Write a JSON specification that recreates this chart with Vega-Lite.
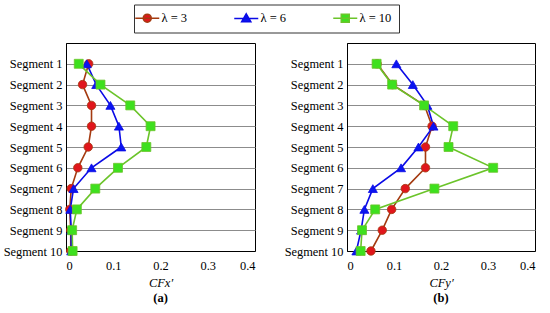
{
  "$schema": "https://vega.github.io/schema/vega-lite/v6.json",
  "padding": {"left": 2, "top": 4, "right": 4, "bottom": 8},
  "background": "white",
  "config": {
    "font": "Liberation Serif",
    "view": {"stroke": "black", "strokeWidth": 1},
    "axis": {
      "labelFont": "Liberation Serif", "labelFontSize": 12.4, "labelColor": "black",
      "ticks": false, "domainColor": "black", "domainWidth": 1,
      "titleFont": "Liberation Serif", "titleFontWeight": "normal", "titleColor": "black"
    },
    "legend": {
      "orient": "none", "legendX": 68, "legendY": -38.5, "direction": "horizontal",
      "strokeColor": "#333", "padding": 7, "columnPadding": 43, "symbolSize": 64, "symbolStrokeWidth": 1.5,
      "labelOffset": 8, "labelFontSize": 12.5, "labelFont": "Liberation Serif", "labelColor": "black"
    },
    "title": {"font": "Liberation Serif", "fontSize": 12.5, "color": "black"}
  },
  "datasets": {
    "a": [
      {"seg": 1, "lambda": "λ = 3", "v": 0.048}, {"seg": 2, "lambda": "λ = 3", "v": 0.035}, {"seg": 3, "lambda": "λ = 3", "v": 0.054}, {"seg": 4, "lambda": "λ = 3", "v": 0.054}, {"seg": 5, "lambda": "λ = 3", "v": 0.047}, {"seg": 6, "lambda": "λ = 3", "v": 0.025}, {"seg": 7, "lambda": "λ = 3", "v": 0.011}, {"seg": 8, "lambda": "λ = 3", "v": 0.008}, {"seg": 9, "lambda": "λ = 3", "v": 0.010}, {"seg": 10, "lambda": "λ = 3", "v": 0.010},
      {"seg": 1, "lambda": "λ = 6", "v": 0.044}, {"seg": 2, "lambda": "λ = 6", "v": 0.064}, {"seg": 3, "lambda": "λ = 6", "v": 0.094}, {"seg": 4, "lambda": "λ = 6", "v": 0.112}, {"seg": 5, "lambda": "λ = 6", "v": 0.117}, {"seg": 6, "lambda": "λ = 6", "v": 0.054}, {"seg": 7, "lambda": "λ = 6", "v": 0.016}, {"seg": 8, "lambda": "λ = 6", "v": 0.009}, {"seg": 9, "lambda": "λ = 6", "v": 0.011}, {"seg": 10, "lambda": "λ = 6", "v": 0.011},
      {"seg": 1, "lambda": "λ = 10", "v": 0.027}, {"seg": 2, "lambda": "λ = 10", "v": 0.073}, {"seg": 3, "lambda": "λ = 10", "v": 0.136}, {"seg": 4, "lambda": "λ = 10", "v": 0.179}, {"seg": 5, "lambda": "λ = 10", "v": 0.170}, {"seg": 6, "lambda": "λ = 10", "v": 0.110}, {"seg": 7, "lambda": "λ = 10", "v": 0.062}, {"seg": 8, "lambda": "λ = 10", "v": 0.023}, {"seg": 9, "lambda": "λ = 10", "v": 0.013}, {"seg": 10, "lambda": "λ = 10", "v": 0.014}
    ],
    "b": [
      {"seg": 1, "lambda": "λ = 3", "v": 0.064}, {"seg": 2, "lambda": "λ = 3", "v": 0.097}, {"seg": 3, "lambda": "λ = 3", "v": 0.165}, {"seg": 4, "lambda": "λ = 3", "v": 0.181}, {"seg": 5, "lambda": "λ = 3", "v": 0.167}, {"seg": 6, "lambda": "λ = 3", "v": 0.167}, {"seg": 7, "lambda": "λ = 3", "v": 0.124}, {"seg": 8, "lambda": "λ = 3", "v": 0.095}, {"seg": 9, "lambda": "λ = 3", "v": 0.075}, {"seg": 10, "lambda": "λ = 3", "v": 0.051},
      {"seg": 1, "lambda": "λ = 6", "v": 0.105}, {"seg": 2, "lambda": "λ = 6", "v": 0.140}, {"seg": 3, "lambda": "λ = 6", "v": 0.171}, {"seg": 4, "lambda": "λ = 6", "v": 0.184}, {"seg": 5, "lambda": "λ = 6", "v": 0.152}, {"seg": 6, "lambda": "λ = 6", "v": 0.115}, {"seg": 7, "lambda": "λ = 6", "v": 0.055}, {"seg": 8, "lambda": "λ = 6", "v": 0.037}, {"seg": 9, "lambda": "λ = 6", "v": 0.030}, {"seg": 10, "lambda": "λ = 6", "v": 0.020},
      {"seg": 1, "lambda": "λ = 10", "v": 0.063}, {"seg": 2, "lambda": "λ = 10", "v": 0.096}, {"seg": 3, "lambda": "λ = 10", "v": 0.164}, {"seg": 4, "lambda": "λ = 10", "v": 0.226}, {"seg": 5, "lambda": "λ = 10", "v": 0.216}, {"seg": 6, "lambda": "λ = 10", "v": 0.311}, {"seg": 7, "lambda": "λ = 10", "v": 0.186}, {"seg": 8, "lambda": "λ = 10", "v": 0.060}, {"seg": 9, "lambda": "λ = 10", "v": 0.032}, {"seg": 10, "lambda": "λ = 10", "v": 0.029}
    ]
  },
  "spacing": 27,
  "hconcat": [
    {
      "width": 189, "height": 208,
      "data": {"name": "a"},
      "title": {"text": "(a)", "orient": "bottom", "fontWeight": "bold", "offset": 3},
      "encoding": {
        "x": {"field": "v", "type": "quantitative", "scale": {"domain": [0, 0.4], "nice": false},
              "axis": {"values": [0, 0.1, 0.2, 0.3, 0.4], "format": "~g", "grid": false, "labelPadding": 8, "title": "CFx′", "titleFontStyle": "italic", "titleFontSize": 12.5, "titlePadding": 5}},
        "y": {"field": "seg", "type": "quantitative", "scale": {"domain": [0, 10], "reverse": true, "nice": false, "zero": false},
              "axis": {"values": [1, 2, 3, 4, 5, 6, 7, 8, 9, 10], "labelExpr": "'Segment ' + datum.value", "grid": true, "gridColor": "#8c8c8c", "gridWidth": 1, "labelPadding": 4, "title": null}}
      },
      "layer": [
        {
          "mark": {"type": "line", "strokeWidth": 1.6},
          "encoding": {
            "stroke": {"field": "lambda", "type": "nominal", "scale": {"domain": ["λ = 3", "λ = 6", "λ = 10"], "range": ["#A43A10", "#0A0AE6", "#6BC42A"]}, "legend": {"title": null}},
            "order": {"field": "seg", "type": "quantitative"}
          }
        },
        {
          "transform": [{"filter": "datum.lambda === 'λ = 3'"}],
          "mark": {"type": "point", "shape": "circle", "filled": true, "opacity": 1, "fill": "#E0161C", "stroke": "#A43A10", "strokeWidth": 0.8, "size": 72}
        },
        {
          "transform": [{"filter": "datum.lambda === 'λ = 6'"}],
          "mark": {"type": "point", "shape": "triangle-up", "filled": true, "opacity": 1, "fill": "#0A14F0", "stroke": "#0A0AE6", "strokeWidth": 0.8, "size": 82}
        },
        {
          "transform": [{"filter": "datum.lambda === 'λ = 10'"}],
          "mark": {"type": "point", "shape": "square", "filled": true, "opacity": 1, "fill": "#3EE01E", "stroke": "#6BC42A", "strokeWidth": 0.8, "size": 80}
        },
        {
          "transform": [{"filter": "false"}],
          "mark": {"type": "point", "filled": true, "opacity": 1},
          "encoding": {
            "shape": {"field": "lambda", "type": "nominal", "scale": {"domain": ["λ = 3", "λ = 6", "λ = 10"], "range": ["M-3,0H3M1,0A1,1 0 1,1 -1,0A1,1 0 1,1 1,0Z", "M-3,0H3M0,-1.15L1.15,0.85L-1.15,0.85Z", "M-3,0H3M-1,-1H1V1H-1Z"]}, "legend": {"title": null}},
            "fill": {"field": "lambda", "type": "nominal", "scale": {"domain": ["λ = 3", "λ = 6", "λ = 10"], "range": ["#E0161C", "#0A14F0", "#3EE01E"]}, "legend": {"title": null}},
            "stroke": {"field": "lambda", "type": "nominal", "legend": {"title": null}}
          }
        }
      ]
    },
    {
      "width": 188, "height": 208,
      "data": {"name": "b"},
      "title": {"text": "(b)", "orient": "bottom", "fontWeight": "bold", "offset": 3},
      "encoding": {
        "x": {"field": "v", "type": "quantitative", "scale": {"domain": [0, 0.4], "nice": false},
              "axis": {"values": [0, 0.1, 0.2, 0.3, 0.4], "format": "~g", "grid": false, "labelPadding": 8, "title": "CFy′", "titleFontStyle": "italic", "titleFontSize": 12.5, "titlePadding": 5}},
        "y": {"field": "seg", "type": "quantitative", "scale": {"domain": [0, 10], "reverse": true, "nice": false, "zero": false},
              "axis": {"values": [1, 2, 3, 4, 5, 6, 7, 8, 9, 10], "labelExpr": "'Segment ' + datum.value", "grid": true, "gridColor": "#8c8c8c", "gridWidth": 1, "labelPadding": 4, "title": null}}
      },
      "layer": [
        {
          "mark": {"type": "line", "strokeWidth": 1.6},
          "encoding": {
            "stroke": {"field": "lambda", "type": "nominal"},
            "order": {"field": "seg", "type": "quantitative"}
          }
        },
        {
          "transform": [{"filter": "datum.lambda === 'λ = 3'"}],
          "mark": {"type": "point", "shape": "circle", "filled": true, "opacity": 1, "fill": "#E0161C", "stroke": "#A43A10", "strokeWidth": 0.8, "size": 72}
        },
        {
          "transform": [{"filter": "datum.lambda === 'λ = 6'"}],
          "mark": {"type": "point", "shape": "triangle-up", "filled": true, "opacity": 1, "fill": "#0A14F0", "stroke": "#0A0AE6", "strokeWidth": 0.8, "size": 82}
        },
        {
          "transform": [{"filter": "datum.lambda === 'λ = 10'"}],
          "mark": {"type": "point", "shape": "square", "filled": true, "opacity": 1, "fill": "#3EE01E", "stroke": "#6BC42A", "strokeWidth": 0.8, "size": 80}
        }
      ]
    }
  ]
}
